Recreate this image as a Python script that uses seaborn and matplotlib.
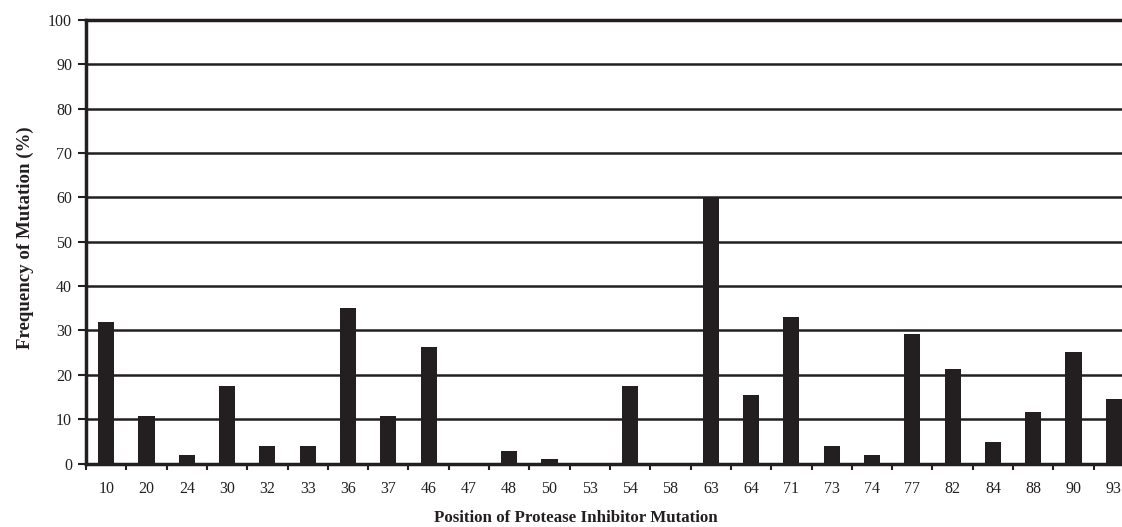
import numpy as np
import pandas as pd
import matplotlib
matplotlib.use("Agg")
import matplotlib.pyplot as plt
import seaborn as sns

# mutation positions and frequency (%)
positions = ["10", "20", "24", "30", "32", "33", "36", "37", "46", "47", "48", "50", "53",
             "54", "58", "63", "64", "71", "73", "74", "77", "82", "84", "88", "90", "93"]
frequency = [32.0, 10.7, 1.9, 17.5, 3.9, 3.9, 35.0, 10.7, 26.2, 0.0, 2.9, 1.0, 0.0,
             17.5, 0.0, 60.2, 15.5, 33.0, 3.9, 1.9, 29.1, 21.4, 4.9, 11.7, 25.2, 14.6]
y_ticks = list(range(0, 101, 10))

df = pd.DataFrame({"position": positions, "frequency": frequency})

sns.set_style("white")
plt.rcParams["font.family"] = ["Liberation Serif", "DejaVu Serif"]

ink = "#231f20"
W, H = 1122, 527
fig = plt.figure(figsize=(W / 100, H / 100), dpi=100)
ax = fig.add_axes([86 / W, 63.5 / H, 1048 / W, 443.5 / H])

sns.barplot(data=df, x="position", y="frequency", color=ink, width=0.4,
            saturation=1, linewidth=0, edgecolor=ink, ax=ax, zorder=3)

ax.set_ylim(0, 100)
ax.set_xlim(-0.5, len(positions) - 0.5)
ax.set_yticks(y_ticks)
ax.yaxis.grid(True, color=ink, linewidth=1.8)
ax.set_axisbelow(True)

for side in ["left", "bottom", "top"]:
    ax.spines[side].set_color(ink)
    ax.spines[side].set_linewidth(2.5)
ax.spines["right"].set_visible(False)

# ticks on slot boundaries, labels in slot centres
ax.set_xticks(np.arange(len(positions) + 1) - 0.5, minor=True)
ax.tick_params(axis="x", which="minor", bottom=True, length=4.5, width=1.5, color=ink)
ax.tick_params(axis="x", which="major", bottom=True, length=0, pad=12.5,
               labelsize=11.5, labelcolor=ink)
ax.tick_params(axis="y", left=True, length=5.5, width=1.5, color=ink, pad=4.5,
               labelsize=11.5, labelcolor=ink)

ax.set_xlabel("Position of Protease Inhibitor Mutation", fontsize=12.2,
              fontweight="bold", color=ink)
ax.xaxis.set_label_coords((576 - 86) / 1048, -0.105)
ax.set_ylabel("Frequency of Mutation (%)", fontsize=13.6, fontweight="bold", color=ink)
ax.yaxis.set_label_coords(-0.0496, 0.51)

fig.savefig("out.png", dpi=100)
